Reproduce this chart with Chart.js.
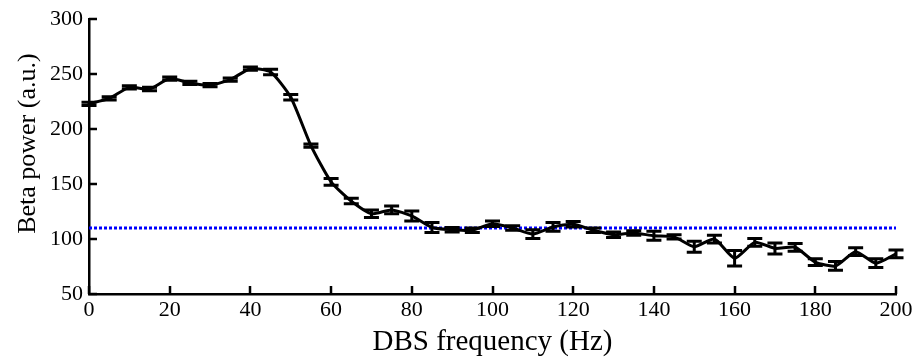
<!DOCTYPE html>
<html>
<head>
<meta charset="utf-8">
<script src="https://cdn.jsdelivr.net/npm/chart.js@4/dist/chart.umd.min.js"></script>
<style>
  html, body { margin: 0; padding: 0; background: #fff; }
  #wrap { width: 917px; height: 360px; position: relative; }
</style>
</head>
<body>
<div id="wrap"><canvas id="c" width="917" height="360"></canvas></div>
<script>
// ---- data ----
const freqs = [0, 5, 10, 15, 20, 25, 30, 35, 40, 45, 50, 55, 60, 65, 70, 75, 80, 85, 90, 95, 100,
               105, 110, 115, 120, 125, 130, 135, 140, 145, 150, 155, 160, 165, 170, 175, 180, 185, 190, 195, 200];
const betaPower = [223, 228, 238, 236.5, 246, 242, 240, 245, 255, 252, 229, 185, 152, 134.5, 123, 126.5, 121, 110.5, 108.5, 108, 114,
                   110, 104.5, 111, 113.5, 108, 104, 105.5, 103, 102, 93, 100, 82.5, 97, 91.5, 92.5, 79, 75.5, 88.5, 78, 86.5];
const betaErr = [1.5, 1.5, 1.5, 1.5, 1.5, 1.5, 1.5, 1.5, 1.5, 2.5, 2.5, 1.5, 3, 2.5, 3.5, 3.5, 4.5, 4.5, 2, 2, 2.5,
                 2, 4, 4, 2.5, 2, 2.5, 2, 4, 2, 5, 3.5, 7, 3.5, 5, 3.5, 3, 4, 3.5, 4, 3.5];
const thresholdValue = 110;
const thresholdRange = [0, 200];
const xTicks = [0, 20, 40, 60, 80, 100, 120, 140, 160, 180, 200];
const yTicks = [50, 100, 150, 200, 250, 300];

const FONT = "'Liberation Serif', 'Times New Roman', serif";

const errorBarPlugin = {
  id: 'errorBars',
  afterDatasetDraw(chart, args) {
    if (args.index !== 0) return;
    const { ctx, scales: { x, y } } = chart;
    ctx.save();
    ctx.strokeStyle = '#000';
    ctx.lineWidth = 3;
    const cap = 7.5;
    freqs.forEach((f, i) => {
      const px = x.getPixelForValue(f);
      const top = y.getPixelForValue(betaPower[i] + betaErr[i]);
      const bot = y.getPixelForValue(betaPower[i] - betaErr[i]);
      ctx.beginPath();
      ctx.moveTo(px, top); ctx.lineTo(px, bot);
      ctx.moveTo(px - cap, top); ctx.lineTo(px + cap, top);
      ctx.moveTo(px - cap, bot); ctx.lineTo(px + cap, bot);
      ctx.stroke();
    });
    ctx.restore();
  }
};

const innerTicksPlugin = {
  id: 'innerTicks',
  afterDraw(chart) {
    const { ctx, chartArea, scales: { x, y } } = chart;
    ctx.save();
    ctx.strokeStyle = '#000';
    ctx.lineWidth = 2.5;
    const len = 8;
    ctx.beginPath();
    xTicks.forEach(v => {
      const px = Math.round(x.getPixelForValue(v));
      ctx.moveTo(px, chartArea.bottom);
      ctx.lineTo(px, chartArea.bottom - len);
    });
    yTicks.forEach(v => {
      const py = Math.round(y.getPixelForValue(v));
      ctx.moveTo(chartArea.left, py);
      ctx.lineTo(chartArea.left + len, py);
    });
    ctx.stroke();
    ctx.restore();
  }
};

new Chart(document.getElementById('c'), {
  type: 'line',
  data: {
    datasets: [
      {
        label: 'Beta power',
        data: freqs.map((f, i) => ({ x: f, y: betaPower[i] })),
        borderColor: '#000',
        borderWidth: 3,
        pointRadius: 0,
        tension: 0.2,
        fill: false
      },
      {
        label: 'Threshold',
        data: thresholdRange.map(f => ({ x: f, y: thresholdValue })),
        borderColor: '#0000ff',
        borderWidth: 3,
        borderDash: [3, 2],
        pointRadius: 0,
        fill: false
      }
    ]
  },
  options: {
    responsive: false,
    animation: false,
    layout: { padding: { top: 18, right: 21, left: 0, bottom: 0 } },
    plugins: {
      legend: { display: false },
      tooltip: { enabled: false }
    },
    scales: {
      x: {
        type: 'linear',
        min: 0, max: 200,
        afterBuildTicks(scale) { scale.ticks = xTicks.map(v => ({ value: v })); },
        afterFit(scale) { scale.height = 66; },
        grid: { drawOnChartArea: false, drawTicks: false },
        border: { display: true, color: '#000', width: 2.5 },
        ticks: { color: '#000', padding: 3, maxRotation: 0, font: { family: FONT, size: 22 } },
        title: {
          display: true, text: 'DBS frequency (Hz)', color: '#000',
          padding: { top: -4, bottom: 0 },
          font: { family: FONT, size: 29 }
        }
      },
      y: {
        type: 'linear',
        min: 50, max: 300,
        afterBuildTicks(scale) { scale.ticks = yTicks.map(v => ({ value: v })); },
        afterFit(scale) { scale.width = 89; },
        grid: { drawOnChartArea: false, drawTicks: false },
        border: { display: true, color: '#000', width: 2.5 },
        ticks: { color: '#000', padding: 6, font: { family: FONT, size: 22 } },
        title: {
          display: true, text: '    Beta power (a.u.)', color: '#000',
          padding: { top: 13, bottom: 0 },
          font: { family: FONT, size: 26 }
        }
      }
    }
  },
  plugins: [errorBarPlugin, innerTicksPlugin]
});
</script>
</body>
</html>
